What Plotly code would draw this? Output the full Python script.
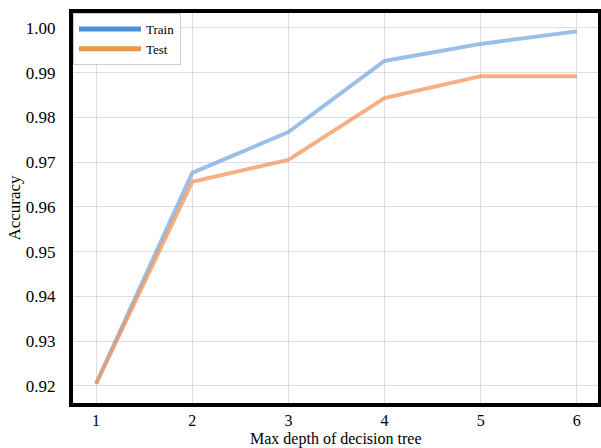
import plotly.graph_objects as go

depth = [1, 2, 3, 4, 5, 6]
train_acc = [0.9205, 0.9676, 0.9767, 0.9926, 0.9964, 0.9992]
test_acc = [0.9205, 0.9656, 0.9705, 0.9843, 0.9892, 0.9892]
y_ticks = [0.92, 0.93, 0.94, 0.95, 0.96, 0.97, 0.98, 0.99, 1.00]
y_tick_text = ["0.92", "0.93", "0.94", "0.95", "0.96", "0.97", "0.98", "0.99", "1.00"]

FONT = "Liberation Serif, Times New Roman, serif"

fig = go.Figure()
fig.add_trace(go.Scatter(x=depth, y=train_acc, mode="lines", showlegend=False,
                         line=dict(color="rgba(120,170,225,0.75)", width=4)))
fig.add_trace(go.Scatter(x=depth, y=test_acc, mode="lines", showlegend=False,
                         line=dict(color="rgba(240,150,90,0.75)", width=4)))
# legend entries with full colour
fig.add_trace(go.Scatter(x=[None], y=[None], mode="lines", name="Train",
                         line=dict(color="#4a90d9", width=5)))
fig.add_trace(go.Scatter(x=[None], y=[None], mode="lines", name="Test",
                         line=dict(color="#f0954a", width=5)))

fig.update_layout(
    width=601, height=448,
    margin=dict(l=73, r=3, t=13, b=45),
    paper_bgcolor="white", plot_bgcolor="white",
    font=dict(family=FONT, size=17, color="black"),
    legend=dict(x=0.0, y=1.0, xanchor="left", yanchor="top",
                bgcolor="white", bordercolor="#cccccc", borderwidth=1,
                font=dict(family=FONT, size=13), itemwidth=62,
                tracegroupgap=0),
    xaxis=dict(range=[0.76, 6.22], tickvals=depth, ticktext=[str(d) for d in depth],
               showgrid=True, gridcolor="#dddddd", gridwidth=1,
               showline=True, linecolor="black", linewidth=4, mirror=True,
               zeroline=False, ticks="", ticklabelstandoff=0, automargin=False,
               tickfont=dict(family=FONT, size=16)),
    yaxis=dict(range=[0.9162, 1.0033], tickvals=y_ticks, ticktext=y_tick_text,
               showgrid=True, gridcolor="#dddddd", gridwidth=1,
               showline=True, linecolor="black", linewidth=4, mirror=True,
               zeroline=False, ticks="", ticklabelstandoff=10, automargin=False,
               title=dict(text="Accuracy", standoff=2,
                          font=dict(family=FONT, size=17))),
    annotations=[dict(text="Max depth of decision tree", xref="paper", yref="paper",
                      x=0.5, y=0, xanchor="center", yanchor="middle", yshift=-36,
                      showarrow=False, font=dict(family=FONT, size=16))],
)

fig.write_html("out.html")
